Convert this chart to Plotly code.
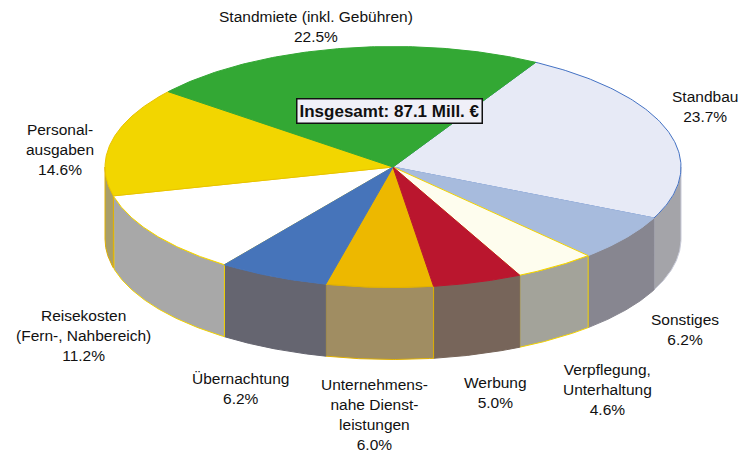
import numpy as np
import plotly.graph_objects as go

# ---------------- data ----------------
categories = ["Standbau", "Sonstiges", "Verpflegung, Unterhaltung", "Werbung",
              "Unternehmensnahe Dienstleistungen", "Übernachtung",
              "Reisekosten (Fern-, Nahbereich)", "Personalausgaben",
              "Standmiete (inkl. Gebühren)"]
label_texts = ["Standbau", "Sonstiges", "Verpflegung,<br>Unterhaltung", "Werbung",
               "Unternehmens-<br>nahe Dienst-<br>leistungen", "Übernachtung",
               "Reisekosten<br>(Fern-, Nahbereich)", "Personal-<br>ausgaben",
               "Standmiete (inkl. Gebühren)"]
shares = [23.7, 6.2, 4.6, 5.0, 6.0, 6.2, 11.2, 14.6, 22.5]
total_text = "Insgesamt: 87.1 Mill. €"

# ---------------- styles ----------------
top_colors = ["#E7EAF6", "#A7BBDD", "#FEFDEE", "#BA162E", "#EDB800",
              "#4674BA", "#FFFFFF", "#F2D600", "#33A834"]
side_colors = ["#A4A4A9", "#878690", "#A3A39A", "#77655A", "#A08D62",
               "#656570", "#A8A8A8", "#A89E6A", "#2A8A2B"]
edge_colors = ["#4472C4", "#A7BBDD", "#F2D200", "#BA162E", "#E0B000",
               "#4674BA", "#F2D200", "#E8C300", "#33A834"]
side_edges = ["#C8CAD8", "#878690", "#F2D200", "#77655A", "#E0B000",
              "#656570", "#F2D200", "#E0B000", "#2A8A2B"]
# label placement (radius factor, angular nudge in degrees)
label_r = [1.195, 1.264, 1.457, 1.326, 1.454, 1.346, 1.337, 1.165, 1.2]
label_dtheta = [7.4, -0.5, -3.7, -1.6, 0.1, 1.5, 2.6, 5.4, 2.1]

W, H = 743, 452
CX, CY, RX, RY, DEPTH = 393.0, 167.0, 288.0, 120.5, 72.0
START = 60.3  # degrees, slices go clockwise
FONT = "Liberation Sans, Arial, sans-serif"


def ell(theta_deg, dy=0.0):
    t = np.radians(theta_deg)
    return CX + RX * np.cos(t), CY - RY * np.sin(t) + dy


fig = go.Figure()

# slice angle ranges (clockwise)
fr = np.array(shares) / np.sum(shares)
cum = np.concatenate([[0], np.cumsum(fr)])
a0 = START - cum[:-1] * 360.0
a1 = START - cum[1:] * 360.0

# side walls (front half: angles in (-180, 0) mod 360)
for i in range(len(shares)):
    hi, lo = a0[i], a1[i]
    for shift in (0.0, 360.0, -360.0):
        h, l = hi + shift, lo + shift
        s_hi, s_lo = min(h, 0.0), max(l, -180.0)
        if s_hi - s_lo > 0.01:
            th = np.linspace(s_hi, s_lo, 80)
            xt, yt = ell(th)
            xb, yb = ell(th[::-1], DEPTH)
            xs = np.concatenate([xt, xb, xt[:1]])
            ys = np.concatenate([yt, yb, yt[:1]])
            fig.add_trace(go.Scatter(x=xs, y=ys, mode="lines", fill="toself",
                                     fillcolor=side_colors[i],
                                     line=dict(color=side_edges[i], width=1),
                                     hoverinfo="skip", showlegend=False))

# top slices
order = [0, 1, 6, 7, 4, 2, 3, 5, 8]
for i in order:
    th = np.linspace(a0[i], a1[i], 120)
    x, y = ell(th)
    xs = np.concatenate([[CX], x, [CX]])
    ys = np.concatenate([[CY], y, [CY]])
    fig.add_trace(go.Scatter(x=xs, y=ys, mode="lines", fill="toself",
                             fillcolor=top_colors[i],
                             line=dict(color=edge_colors[i], width=1),
                             hoverinfo="skip", showlegend=False))

# labels
for i in range(len(shares)):
    mid = (a0[i] + a1[i]) / 2.0 + label_dtheta[i]
    t = np.radians(mid)
    lx = CX + RX * label_r[i] * np.cos(t)
    ly = CY - RY * label_r[i] * np.sin(t) + (DEPTH if np.sin(t) < 0 else 0)
    fig.add_annotation(x=lx, y=ly, xref="x", yref="y",
                       text=f"{label_texts[i]}<br>{shares[i]:.1f}%",
                       showarrow=False, xanchor="center", yanchor="middle",
                       align="center", font=dict(family=FONT, size=15.5, color="#111"))

# total box
fig.add_annotation(x=389.5, y=111, xref="x", yref="y", text=f"<b>{total_text}</b>",
                   showarrow=False, xanchor="center", yanchor="middle",
                   font=dict(family=FONT, size=17, color="#111"),
                   bgcolor="#F0F0F8", bordercolor="#111", borderwidth=1.5, borderpad=2)

fig.update_xaxes(range=[0, W], visible=False, fixedrange=True)
fig.update_yaxes(range=[H, 0], visible=False, fixedrange=True)
fig.update_layout(width=W, height=H, margin=dict(l=0, r=0, t=0, b=0),
                  plot_bgcolor="white", paper_bgcolor="white", showlegend=False)

fig.write_html("out.html")
